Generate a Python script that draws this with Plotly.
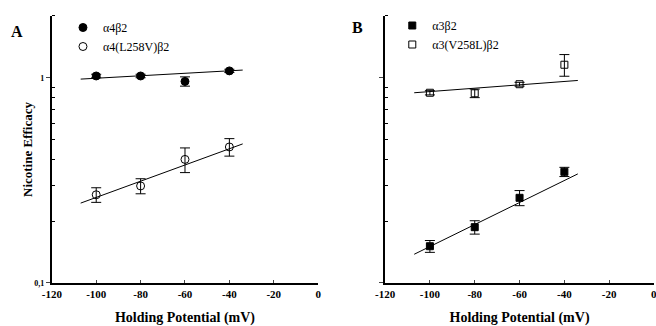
import plotly.graph_objects as go

# ---- data ----
volts = [-100, -80, -60, -40]

a4b2 = [1.02, 1.02, 0.96, 1.08]
a4b2_err = [0.02, 0.02, 0.05, 0.02]
a4mut = [0.269, 0.297, 0.40, 0.46]
a4mut_err = [0.022, 0.025, 0.055, 0.045]

a3b2 = [0.151, 0.187, 0.26, 0.348]
a3b2_err = [0.01, 0.014, 0.022, 0.018]
a3mut = [0.845, 0.84, 0.93, 1.157]
a3mut_err = [0.02, 0.04, 0.02, 0.14]

fit_x = [-107, -34]
fit_a4b2 = [0.985, 1.09]
fit_a4mut = [0.245, 0.476]
fit_a3b2 = [0.138, 0.34]
fit_a3mut = [0.845, 0.97]

x_ticks = [-120, -100, -80, -60, -40, -20, 0]
x_tick_text = ["<b>-120</b>", "<b>-100</b>", "<b>-80</b>", "<b>-60</b>", "<b>-40</b>", "<b>-20</b>", "<b>0</b>"]
y_ticks = [0.1, 1]
y_tick_text = ["<b>0,1</b>", "<b>1</b>"]
y_minor = [0.2, 0.3, 0.4, 0.5, 0.6, 0.7, 0.8, 0.9, 2]

FONT = "Liberation Serif"

fig = go.Figure()

def pts(x, y, err, sym, xa, ya, name, legend, size):
    fig.add_trace(go.Scatter(
        x=x, y=y, mode="markers", name=name, xaxis=xa, yaxis=ya, legend=legend,
        marker=dict(symbol=sym, size=size, color="black", line=dict(color="black", width=1)),
        error_y=dict(type="data", array=err, color="black", thickness=1, width=5),
    ))

def fitline(x, y, xa, ya):
    fig.add_trace(go.Scatter(x=x, y=y, mode="lines", xaxis=xa, yaxis=ya, showlegend=False,
                             line=dict(color="black", width=1)))

fitline(fit_x, fit_a4b2, "x", "y")
fitline(fit_x, fit_a4mut, "x", "y")
fitline(fit_x, fit_a3b2, "x2", "y2")
fitline(fit_x, fit_a3mut, "x2", "y2")

pts(volts, a4b2, a4b2_err, "circle", "x", "y", "α4β2", "legend", 8)
pts(volts, a4mut, a4mut_err, "circle-open", "x", "y", "α4(L258V)β2", "legend", 8)
pts(volts, a3b2, a3b2_err, "square", "x2", "y2", "α3β2", "legend2", 7)
pts(volts, a3mut, a3mut_err, "square-open", "x2", "y2", "α3(V258L)β2", "legend2", 7)

xax = dict(range=[-120, 0], tickvals=x_ticks, ticktext=x_tick_text, ticks="inside", ticklen=3, tickwidth=1,
           showline=True, linecolor="black", linewidth=2, showgrid=False, zeroline=False,
           tickfont=dict(family=FONT, size=11, color="black"), automargin=False,
           title=dict(text="<b>Holding Potential (mV)</b>", font=dict(family=FONT, size=14, color="black"), standoff=14))
yax = dict(type="log", range=[-1, 0.301], tickvals=y_ticks, ticktext=y_tick_text, ticks="outside",
           ticklen=4, tickwidth=1, showline=True, linecolor="black", linewidth=2, showgrid=False,
           zeroline=False, tickfont=dict(family=FONT, size=8, color="black"), automargin=False,
           minor=dict(tickvals=y_minor, ticks="inside", ticklen=3, tickcolor="black", tickwidth=1),
           domain=[0.132, 0.951])

fig.update_layout(
    width=656, height=326, margin=dict(l=0, r=0, t=0, b=0, autoexpand=False),
    paper_bgcolor="white", plot_bgcolor="white",
    xaxis=dict(xax, domain=[0.079, 0.485], anchor="y"),
    yaxis=dict(yax, anchor="x"),
    xaxis2=dict(xax, domain=[0.587, 0.997], anchor="y2"),
    yaxis2=dict(yax, anchor="x2", showticklabels=False),
    legend=dict(x=0.096, y=1 - 13/326, xanchor="left", yanchor="top", bgcolor="rgba(0,0,0,0)",
                font=dict(family=FONT, size=12, color="black"), tracegroupgap=0),
    legend2=dict(x=0.598, y=1 - 11/326, xanchor="left", yanchor="top", bgcolor="rgba(0,0,0,0)",
                 font=dict(family=FONT, size=12, color="black"), tracegroupgap=0),
    showlegend=True,
    annotations=[
        dict(text="<b>A</b>", x=17/656, y=1-31/326, xref="paper", yref="paper", showarrow=False,
             xanchor="center", yanchor="middle", font=dict(family=FONT, size=16, color="black")),
        dict(text="<b>B</b>", x=357/656, y=1-28/326, xref="paper", yref="paper", showarrow=False,
             xanchor="center", yanchor="middle", font=dict(family=FONT, size=16, color="black")),
        dict(text="<b>Nicotine Efficacy</b>", x=27/656, y=1-150/326, xref="paper", yref="paper",
             showarrow=False, textangle=-90, xanchor="center", yanchor="middle",
             font=dict(family=FONT, size=13, color="black")),
        dict(text="<b>0</b>", x=0, xref="x2", y=1-294/326, yref="paper", showarrow=False,
             xanchor="center", yanchor="middle", font=dict(family=FONT, size=11, color="black")),
    ],
)

fig.write_html("out.html")
